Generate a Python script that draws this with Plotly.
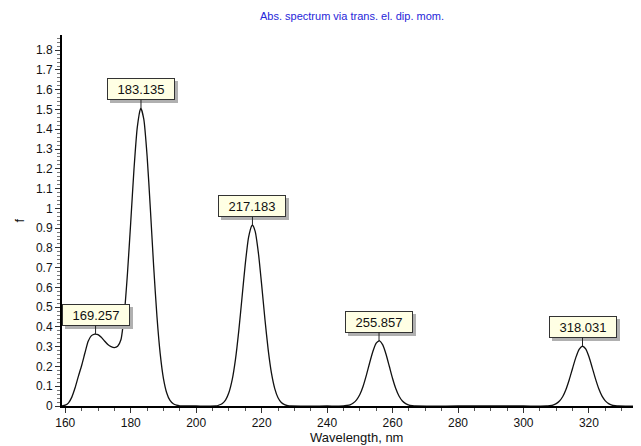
import plotly.graph_objects as go

# Spectrum curve (wavelength nm, oscillator strength f)
wavelength = [159.0, 160, 161, 162, 163, 164, 165, 166, 167, 168, 169, 169.257, 170, 171, 172, 173, 174, 175, 176, 177,
              178, 179, 180, 181, 182, 183, 183.135, 184, 185, 186, 187, 188, 189, 190, 191, 192, 193, 194, 195,
              200, 206, 207, 208, 209, 210, 211, 212, 213, 214, 215, 216, 217, 217.183, 218, 219, 220, 221, 222,
              223, 224, 225, 226, 227, 228, 229, 240, 245, 246, 247, 248, 249, 250, 251, 252, 253, 254, 255, 255.857,
              256, 257, 258, 259, 260, 261, 262, 263, 264, 265, 266, 267, 280, 300, 307, 308, 309, 310, 311, 312, 313,
              314, 315, 316, 317, 318, 318.031, 319, 320, 321, 322, 323, 324, 325, 326, 327, 328, 329, 336]
f_values = [0.0, 0.004, 0.016, 0.045, 0.092, 0.150, 0.205, 0.268, 0.328, 0.356, 0.364, 0.364, 0.361, 0.348, 0.329, 0.311,
            0.300, 0.295, 0.302, 0.335, 0.460, 0.670, 0.930, 1.200, 1.410, 1.504, 1.506, 1.450, 1.265, 0.997, 0.708,
            0.455, 0.265, 0.139, 0.066, 0.028, 0.011, 0.004, 0.001,
            0.0, 0.0, 0.005, 0.013, 0.031, 0.068, 0.133, 0.236, 0.379, 0.549, 0.719, 0.853, 0.913, 0.915, 0.885, 0.775,
            0.613, 0.439, 0.284, 0.166, 0.088, 0.042, 0.018, 0.007, 0.002, 0.0, 0.0, 0.0, 0.0025, 0.006, 0.015, 0.031,
            0.058, 0.100, 0.156, 0.219, 0.277, 0.318, 0.330, 0.330, 0.309, 0.262, 0.201, 0.139, 0.087, 0.049, 0.025,
            0.012, 0.005, 0.002, 0.0, 0.0, 0.0, 0.0, 0.002, 0.005, 0.012, 0.025, 0.048, 0.085, 0.134, 0.191, 0.246,
            0.287, 0.303, 0.303, 0.289, 0.249, 0.194, 0.137, 0.087, 0.050, 0.026, 0.012, 0.005, 0.002, 0.0, 0.0]

# Labelled peaks
peak_wl = [169.257, 183.135, 217.183, 255.857, 318.031]
peak_f = [0.364, 1.506, 0.915, 0.330, 0.303]
peak_labels = ["169.257", "183.135", "217.183", "255.857", "318.031"]

title_text = "Abs. spectrum via trans. el. dip. mom."
x_title = "Wavelength, nm"
y_title = "f"

FONT = "Liberation Sans, Arial, sans-serif"

fig = go.Figure()
fig.add_trace(go.Scatter(
    x=wavelength, y=f_values, mode="lines",
    line=dict(color="#111111", width=1.3, shape="spline", smoothing=0.6),
    hoverinfo="skip", showlegend=False,
))

annotations = []
for wl, fv, lab in zip(peak_wl, peak_f, peak_labels):
    # drop shadow of the label box
    annotations.append(dict(
        x=wl, y=fv, xref="x", yref="y", text="&nbsp;", showarrow=True,
        arrowcolor="rgba(0,0,0,0)", arrowhead=0, ax=0, ay=-19,
        xshift=3, yshift=-3,
        font=dict(family=FONT, size=13, color="rgba(0,0,0,0)"),
        bgcolor="#b0b0b0", bordercolor="#b0b0b0", borderwidth=1, borderpad=1,
        width=64, height=18,
    ))
    annotations.append(dict(
        x=wl, y=fv, xref="x", yref="y", text=lab, showarrow=True,
        arrowcolor="#222222", arrowhead=0, arrowwidth=1, ax=0, ay=-19,
        font=dict(family=FONT, size=13, color="#111111"),
        bgcolor="#FFFFE4", bordercolor="#333333", borderwidth=1, borderpad=1,
        width=64, height=18,
    ))

# axis titles as paper annotations
annotations.append(dict(
    x=0.508, y=0, xref="paper", yref="paper", text=x_title, showarrow=False,
    xanchor="center", yanchor="middle", yshift=-31,
    font=dict(family=FONT, size=13, color="#111111"),
))
annotations.append(dict(
    x=0, y=0.5, xref="paper", yref="paper", text=y_title, showarrow=False,
    xanchor="center", yanchor="middle", xshift=-43, textangle=-90,
    font=dict(family=FONT, size=13, color="#111111"),
))

fig.update_layout(
    width=633, height=438,
    margin=dict(l=54, r=0, t=27, b=40),
    paper_bgcolor="white", plot_bgcolor="white",
    font=dict(family=FONT, size=12, color="#111111"),
    title=dict(text=title_text, x=0.5435, xanchor="center", y=0.9817, yanchor="middle",
               yref="container", xref="container",
               font=dict(family=FONT, size=11, color="#2626D9")),
    annotations=annotations,
    xaxis=dict(
        range=[159.0, 335.9], tickmode="linear", tick0=160, dtick=20,
        showgrid=False, zeroline=False, automargin=False,
        showline=True, linecolor="#000000", linewidth=2,
        ticks="outside", ticklen=5, tickwidth=1, tickcolor="#333333",
        minor=dict(ticks="outside", ticklen=3, dtick=5, tickcolor="#555555", showgrid=False),
        tickfont=dict(family=FONT, size=12, color="#111111"),
    ),
    yaxis=dict(
        range=[0, 1.877], tickmode="linear", tick0=0, dtick=0.1,
        showgrid=False, zeroline=False, automargin=False,
        showline=True, linecolor="#000000", linewidth=2,
        ticks="outside", ticklen=5, tickwidth=1, tickcolor="#333333",
        minor=dict(ticks="outside", ticklen=3, dtick=0.02, tickcolor="#777777", showgrid=False),
        tickfont=dict(family=FONT, size=12, color="#111111"),
    ),
)

fig.write_html("out.html")
